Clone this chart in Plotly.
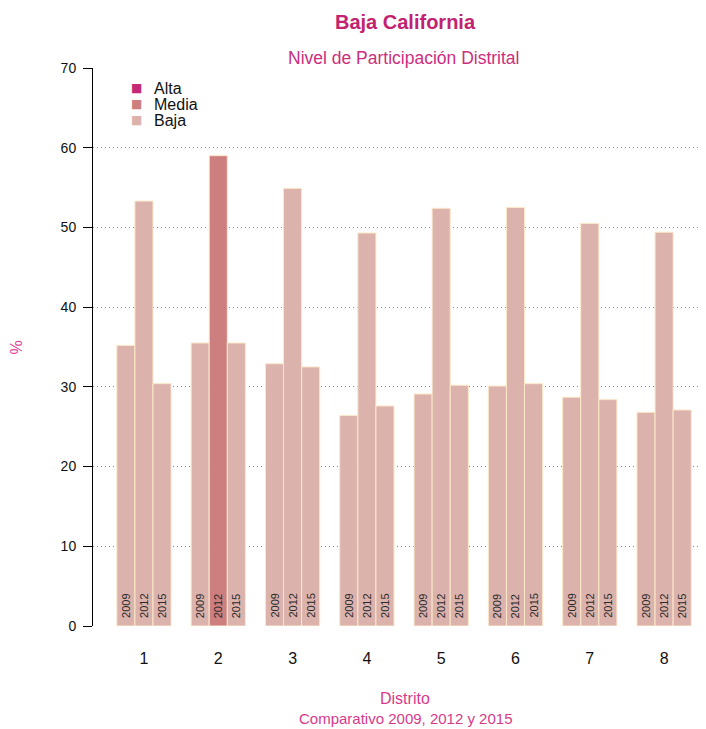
import plotly.graph_objects as go

districts = [1, 2, 3, 4, 5, 6, 7, 8]
years = ["2009", "2012", "2015"]
values = {
    "2009": [35.2, 35.5, 32.9, 26.4, 29.1, 30.1, 28.7, 26.8],
    "2012": [53.3, 59.0, 54.9, 49.3, 52.4, 52.5, 50.5, 49.4],
    "2015": [30.4, 35.5, 32.5, 27.6, 30.2, 30.4, 28.4, 27.1],
}
levels = {
    "2009": ["Baja"] * 8,
    "2012": ["Baja", "Media", "Baja", "Baja", "Baja", "Baja", "Baja", "Baja"],
    "2015": ["Baja"] * 8,
}
level_names = ["Alta", "Media", "Baja"]
level_colors = {"Alta": "#C42A78", "Media": "#CD7F7F", "Baja": "#DBB2AC"}

FONT = "Liberation Sans, Arial, sans-serif"
BARGAP = 0.27
bar_w = (1 - BARGAP) / len(years)

fig = go.Figure()

for y in years:
    fig.add_trace(go.Bar(
        x=districts, y=values[y],
        marker=dict(color=[level_colors[l] for l in levels[y]],
                    line=dict(color="#FBE8C8", width=1)),
        showlegend=False, hoverinfo="skip",
    ))

# year labels inside each bar, rotated, near the base
year_ann = []
for i, y in enumerate(years):
    for d in districts:
        year_ann.append(dict(text=y, x=d + (i - 1) * bar_w, y=0, xref="x", yref="y",
                             textangle=-90, showarrow=False, yanchor="bottom",
                             xanchor="center", yshift=6,
                             font=dict(size=11, color="#2a2a2a", family=FONT)))

# legend drawn as layout text (tight 16px line spacing as in reference)
legend_ann = []
for i, l in enumerate(level_names):
    legend_ann.append(dict(text="■", xref="paper", yref="paper", x=0.071, y=1,
                           yshift=-20 - 16 * i, xanchor="center", yanchor="middle",
                           showarrow=False,
                           font=dict(size=12, color=level_colors[l], family="DejaVu Sans")))
    legend_ann.append(dict(text=l, xref="paper", yref="paper", x=0.096, y=1,
                           yshift=-20 - 16 * i, xanchor="left", yanchor="middle",
                           showarrow=False,
                           font=dict(size=16, color="#111111", family=FONT)))

fig.update_layout(
    width=698, height=721,
    margin=dict(l=85, r=0, t=60, b=103),
    paper_bgcolor="white", plot_bgcolor="white",
    barmode="group", bargap=BARGAP, bargroupgap=0,
    font=dict(family=FONT, color="#222222"),
    showlegend=False,
    xaxis=dict(range=[0.314, 8.564], tickmode="array", tickvals=districts,
               ticktext=[str(d) for d in districts], showgrid=False,
               showline=False, ticks="", zeroline=False,
               tickfont=dict(size=16, color="#111111", family=FONT),
               ticklabelstandoff=21),
    yaxis=dict(range=[0, 70], tickvals=[0, 10, 20, 30, 40, 50, 60, 70],
               showline=True, linecolor="black", linewidth=1,
               ticks="outside", ticklen=9, tickcolor="black",
               showgrid=True, gridcolor="#8a8a8a", griddash="1px,3px", gridwidth=1,
               zeroline=False, tickfont=dict(size=14, color="#111111", family=FONT),
               ticklabelstandoff=4),
    annotations=[
        dict(text="<b>Baja California</b>", xref="paper", yref="paper",
             x=0.509, y=1, yshift=46, yanchor="middle", showarrow=False,
             font=dict(size=20, color="#C2226F", family=FONT)),
        dict(text="Nivel de Participación Distrital", xref="paper", yref="paper",
             x=0.507, y=1, yshift=10, yanchor="middle", showarrow=False,
             font=dict(size=17.5, color="#CC2E7E", family=FONT)),
        dict(text="%", xref="paper", yref="paper", x=-0.142, y=0.5,
             textangle=-90, showarrow=False,
             font=dict(size=16, color="#E0459A", family=FONT)),
        dict(text="Distrito", xref="paper", yref="paper", x=0.509, y=0,
             yshift=-72, showarrow=False, yanchor="middle",
             font=dict(size=16, color="#D93A8A", family=FONT)),
        dict(text="Comparativo 2009, 2012 y 2015", xref="paper", yref="paper",
             x=0.509, y=0, yshift=-92, showarrow=False, yanchor="middle",
             font=dict(size=15, color="#D93A8A", family=FONT)),
    ] + year_ann + legend_ann,
)

fig.write_html("out.html")
